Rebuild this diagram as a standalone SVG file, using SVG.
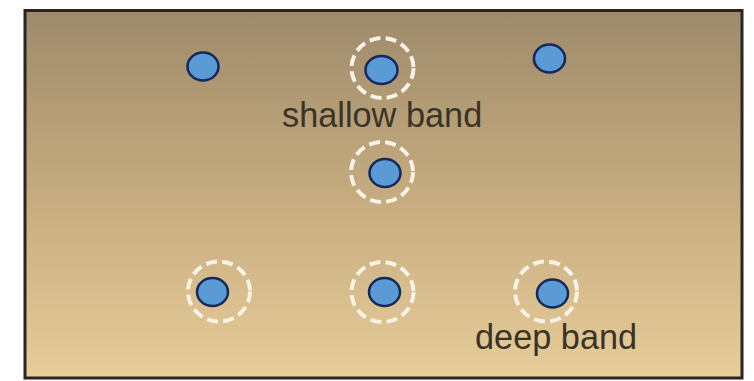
<svg xmlns="http://www.w3.org/2000/svg" width="754" height="381" viewBox="0 0 754 381">
<defs>
<linearGradient id="bg" x1="0" y1="0" x2="0" y2="1">
<stop offset="0" stop-color="#9e8b6b"/>
<stop offset="0.5" stop-color="#c5ab7f"/>
<stop offset="1" stop-color="#e8cd9a"/>
</linearGradient>
</defs>
<style>
.dot{fill:#5b9bd5;stroke:#15285a;stroke-width:2.5}
.ring{fill:none;stroke:#f8f3e6;stroke-width:4;stroke-dasharray:11 5.3}
.shadow{fill:#9a7a2c}
.lbl{font-family:"Liberation Sans",Arial,sans-serif;font-size:34.3px;fill:#3a3427}
</style>
<rect x="0" y="0" width="754" height="381" fill="#ffffff"/>
<rect x="25" y="10.5" width="717" height="367.5" fill="url(#bg)" stroke="#2a2520" stroke-width="3"/>
<g id="top-left"><ellipse class="shadow" cx="211" cy="65" rx="8" ry="8"/><ellipse class="dot" cx="203" cy="66.5" rx="15.5" ry="14"/></g>
<g id="top-center"><ellipse class="ring" cx="382.5" cy="68" rx="31" ry="30"/><ellipse class="dot" cx="381.5" cy="70" rx="16" ry="14"/></g>
<g id="top-right"><ellipse class="shadow" cx="540" cy="61" rx="8" ry="8"/><ellipse class="dot" cx="549.5" cy="58.5" rx="15.5" ry="14"/></g>
<g id="middle"><ellipse class="ring" cx="382" cy="172" rx="31" ry="30"/><ellipse class="dot" cx="385" cy="173" rx="15.5" ry="14"/></g>
<g id="bottom-left"><ellipse class="ring" cx="219" cy="291.5" rx="31" ry="30"/><ellipse class="dot" cx="212.5" cy="292" rx="15.5" ry="14"/></g>
<g id="bottom-center"><ellipse class="ring" cx="382.5" cy="292" rx="31" ry="30"/><ellipse class="dot" cx="384.5" cy="292" rx="15.5" ry="14"/></g>
<g id="bottom-right"><ellipse class="ring" cx="546" cy="291.5" rx="31" ry="30"/><ellipse class="dot" cx="552.5" cy="293.5" rx="15.5" ry="14"/></g>
<g id="labels">
<text class="lbl" x="282" y="127">shallow band</text>
<text class="lbl" x="475" y="349">deep band</text>
</g>
</svg>
